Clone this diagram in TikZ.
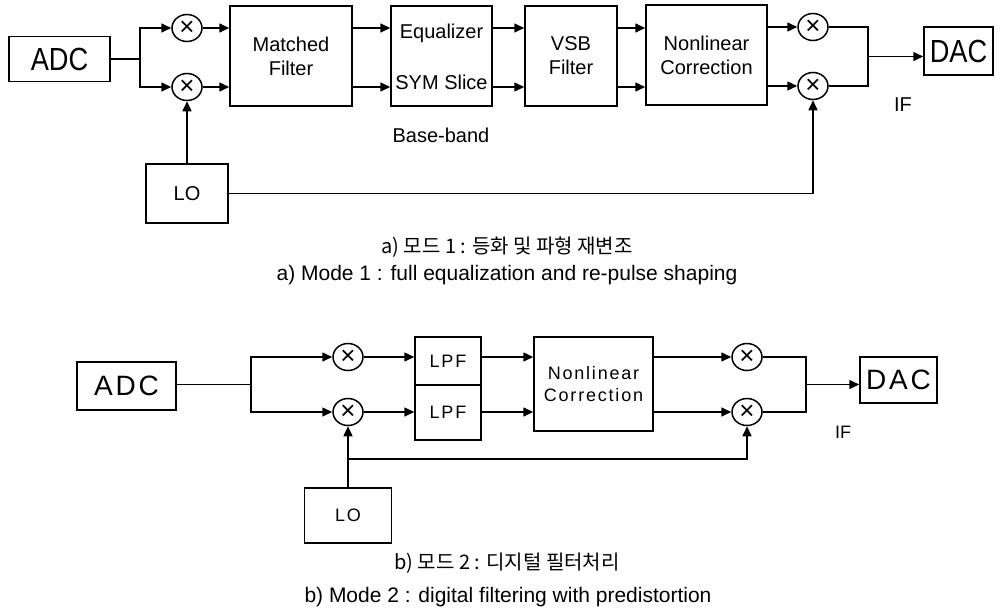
\documentclass[tikz,border=0pt]{standalone}
\usepackage{fontspec}
\setmainfont{Liberation Sans}
\newfontfamily\hangul{Noto Sans CJK KR}
\newfontfamily\widesans{Liberation Sans}[LetterSpace=10]
\newfontfamily\tallsans{Liberation Sans}[FakeStretch=0.85]
\usetikzlibrary{arrows.meta,positioning,shapes.geometric}
\newcommand{\mult}{\raisebox{-3pt}{×}}

\begin{document}
\begin{tikzpicture}[x=1pt,y=-1pt,>={Triangle[length=10pt,width=9pt]},line width=1.5pt,
 box/.style={draw,inner sep=0pt,align=center,font=\fontsize{20}{24}\selectfont},
 bigbox/.style={box,font=\tallsans\fontsize{32}{36}\selectfont},
 lowbox/.style={box,font=\widesans\fontsize{18}{22}\selectfont},
 mix/.style={draw,ellipse,inner sep=0pt,minimum width=30pt,minimum height=27pt,
 font=\fontsize{26}{26}\selectfont},
 lbl/.style={inner sep=0pt,font=\fontsize{20}{24}\selectfont},
 every edge/.style={draw,->}]
\useasboundingbox (0,0) rectangle (1001,610);
% a) Mode 1
\node[bigbox,minimum width=101pt,minimum height=45pt] (adcA) at (59.5,59) {ADC};
\coordinate (sA) at (140,59);
\node[mix] (mixA1) at (187,28) {\mult};
\node[mix] (mixA2) at (187,87) {\mult};
\node[box,minimum width=122pt,minimum height=100pt] (mfA) at (291,56) {Matched\\Filter};
\node[box,minimum width=101pt,minimum height=100pt] (eqA) at (441.5,56) {};
\node[lbl] (eqT1) at (441.5,33) {Equalizer};
\node[lbl] (eqT2) at (441.5,82) {SYM Slice};
\node[box,minimum width=92pt,minimum height=100pt] (vsbA) at (571,56) {VSB\\Filter};
\node[box,minimum width=121pt,minimum height=100pt] (nlA) at (706.5,55) {Nonlinear\\Correction};
\node[mix] (mixA3) at (813,27) {\mult};
\node[mix] (mixA4) at (813,86) {\mult};
\coordinate (jA) at (868,56.5);
\node[bigbox,minimum width=69pt,minimum height=48pt] (dacA) at (958.5,51) {DAC};
\node[lbl] (ifA) at (903,105) {IF};
\node[lbl] (bbA) at (441,135) {Base-band};
\node[box,minimum width=82pt,minimum height=59pt] (loA) at (187,193.5) {LO};
\draw (adcA.east) -- (sA);
\draw[->] (sA) |- (mixA1.west);
\draw[->] (sA) |- (mixA2.west);
\path (mixA1) edge (mfA.west |- mixA1)
      (mixA2) edge (mfA.west |- mixA2)
      (mfA.east |- mixA1) edge (eqA.west |- mixA1)
      (mfA.east |- mixA2) edge (eqA.west |- mixA2)
      (eqA.east |- mixA1) edge (vsbA.west |- mixA1)
      (eqA.east |- mixA2) edge (vsbA.west |- mixA2)
      (vsbA.east |- mixA1) edge (nlA.west |- mixA1)
      (vsbA.east |- mixA2) edge (nlA.west |- mixA2)
      (nlA.east |- mixA3) edge (mixA3)
      (nlA.east |- mixA4) edge (mixA4);
\draw (mixA3) -| (jA);
\draw (mixA4) -| (jA);
\draw[->] (jA) -- (dacA.west |- jA);
\draw[->] (loA) -- (mixA2);
\draw[->] (loA.east) -| (mixA4.south);
\node[font=\hangul\fontsize{20}{24}\selectfont] (capA1) at (507,247) {a) 모드 1 : 등화 및 파형 재변조};
\node[font=\fontsize{21}{24}\selectfont] (capA2) at (507,275) {a) Mode 1 : full equalization and re-pulse shaping};
% b) Mode 2
\node[lowbox,font=\widesans\fontsize{28}{32}\selectfont,minimum width=99pt,minimum height=48pt] (adcB) at (126.5,386) {ADC};
\coordinate (sB) at (251,384.5);
\node[mix] (mixB1) at (348,357) {\mult};
\node[mix] (mixB2) at (348,412) {\mult};
\node[lowbox,minimum width=66pt,minimum height=48pt] (lpfB1) at (448,361) {LPF};
\node[lowbox,minimum width=66pt,minimum height=55pt] (lpfB2) at (448,412.5) {LPF};
\node[lowbox,minimum width=119pt,minimum height=94pt] (nlB) at (593.5,384) {Nonlinear\\Correction};
\node[mix] (mixB3) at (747,357) {\mult};
\node[mix] (mixB4) at (747,412) {\mult};
\coordinate (jB) at (806,384.5);
\node[lowbox,font=\widesans\fontsize{28}{32}\selectfont,minimum width=77pt,minimum height=46pt] (dacB) at (898.5,380) {DAC};
\node[lbl,font=\fontsize{18}{22}\selectfont] (ifB) at (843,432) {IF};
\node[lowbox,minimum width=87pt,minimum height=55pt] (loB) at (348,515.5) {LO};
\coordinate (brB) at (348,459);
\draw (adcB.east |- sB) -- (sB);
\draw[->] (sB) |- (mixB1.west);
\draw[->] (sB) |- (mixB2.west);
\path (mixB1) edge (lpfB1.west |- mixB1)
      (mixB2) edge (lpfB2.west |- mixB2)
      (lpfB1.east |- mixB1) edge (nlB.west |- mixB1)
      (lpfB2.east |- mixB2) edge (nlB.west |- mixB2)
      (nlB.east |- mixB3) edge (mixB3)
      (nlB.east |- mixB4) edge (mixB4);
\draw (mixB3) -| (jB);
\draw (mixB4) -| (jB);
\draw[->] (jB) -- (dacB.west |- jB);
\draw[->] (loB) -- (mixB2);
\draw[->] (brB) -| (mixB4.south);
\node[font=\hangul\fontsize{20}{24}\selectfont] (capB1) at (507,563) {b) 모드 2 : 디지털 필터처리};
\node[font=\fontsize{21}{24}\selectfont] (capB2) at (508,597) {b) Mode 2 : digital filtering with predistortion};
\end{tikzpicture}
\end{document}
